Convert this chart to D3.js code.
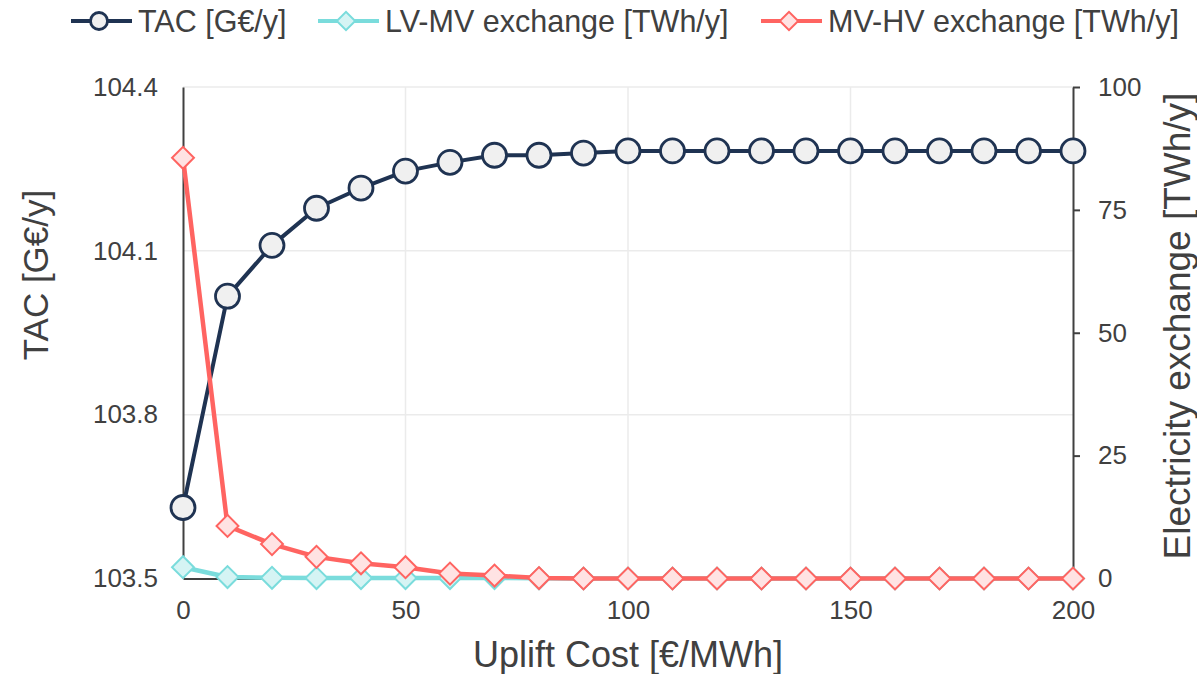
<!DOCTYPE html>
<html>
<head>
<meta charset="utf-8">
<script src="https://cdn.jsdelivr.net/npm/d3@7"></script>
<style>
  body { margin: 0; background: #fff; }
  svg { display: block; font-family: "Liberation Sans", Arial, sans-serif; }
</style>
</head>
<body>
<svg id="chart" width="1197" height="674"></svg>
<script>
// uplift cost steps [€/MWh]
const uplift = [0, 10, 20, 30, 40, 50, 60, 70, 80, 90, 100, 110, 120, 130, 140, 150, 160, 170, 180, 190, 200]
// total annual cost [G€/y]
const tac = [103.63, 104.017, 104.11, 104.178, 104.215, 104.246, 104.262, 104.275, 104.275, 104.279, 104.283,
  104.283, 104.283, 104.283, 104.283, 104.283, 104.283, 104.283, 104.283, 104.283, 104.283]
// exchange [TWh/y]
const lvmv = [2.3, 0.3, 0.15, 0.1, 0.1, 0.1, 0.1, 0.1, 0.05, 0, 0, 0, 0, 0, 0, 0, 0, 0, 0, 0, 0]
const mvhv = [85.6, 10.7, 7.0, 4.4, 3.1, 2.3, 1.0, 0.6, 0.1, 0, 0, 0, 0, 0, 0, 0, 0, 0, 0, 0, 0]

const xTicks = [0, 50, 100, 150, 200]
const yLeftTicks = [103.5, 103.8, 104.1, 104.4]
const yRightTicks = [0, 25, 50, 75, 100]

const TEXT = '#404040'
const AXIS = '#404040'
const GRID = '#ebebeb'

const series = [
  { name: 'TAC [G€/y]', values: tac, side: 'left', line: '#1f3352', fill: '#f0f0f0', stroke: '#1f3352', marker: 'circle' },
  { name: 'LV-MV exchange [TWh/y]', values: lvmv, side: 'right', line: '#7adcdc', fill: '#d5f4f4', stroke: '#7adcdc', marker: 'diamond' },
  { name: 'MV-HV exchange [TWh/y]', values: mvhv, side: 'right', line: '#ff6461', fill: '#ffe3e3', stroke: '#ff6461', marker: 'diamond' }
]
// legend item left edges
const legendX = [71, 318, 761]

const m = { left: 183, right: 1073, top: 87, bottom: 578.5 }
const svg = d3.select('#chart')

const x = d3.scaleLinear().domain([0, 200]).range([m.left, m.right])
const yL = d3.scaleLinear().domain([103.5, 104.4]).range([m.bottom, m.top])
const yR = d3.scaleLinear().domain([0, 100]).range([m.bottom, m.top])

// grid
const grid = svg.append('g')
grid.selectAll('line.gy')
  .data(yLeftTicks.slice(1))
  .join('line')
  .attr('x1', m.left).attr('x2', m.right)
  .attr('y1', d => yL(d)).attr('y2', d => yL(d))
  .attr('stroke', GRID).attr('stroke-width', 1.5)
grid.selectAll('line.gx')
  .data(xTicks.slice(1, -1))
  .join('line')
  .attr('x1', d => x(d)).attr('x2', d => x(d))
  .attr('y1', m.top).attr('y2', m.bottom)
  .attr('stroke', GRID).attr('stroke-width', 1.5)

// axes
const xAxis = svg.append('g')
  .attr('transform', `translate(0,${m.bottom})`)
  .call(d3.axisBottom(x).tickValues(xTicks).tickSize(0).tickPadding(22))
const leftAxis = svg.append('g')
  .attr('transform', `translate(${m.left},0)`)
  .call(d3.axisLeft(yL).tickValues(yLeftTicks).tickSize(0).tickPadding(25).tickFormat(d3.format('.1f')))
const rightAxis = svg.append('g')
  .attr('transform', `translate(${m.right},0)`)
  .call(d3.axisRight(yR).tickValues(yRightTicks).tickSize(7).tickSizeOuter(0).tickPadding(18))

;[xAxis, leftAxis, rightAxis].forEach(g => {
  g.select('.domain').attr('stroke', AXIS).attr('stroke-width', 2)
  g.selectAll('.tick line').attr('stroke', AXIS).attr('stroke-width', 2)
  g.selectAll('.tick text').attr('fill', TEXT).style('font-size', '26px')
  g.attr('font-family', null)
})

// series
const plot = svg.append('g')
series.forEach(s => {
  const y = s.side === 'left' ? yL : yR
  const line = d3.line().x((d, i) => x(uplift[i])).y(d => y(d))
  plot.append('path')
    .datum(s.values)
    .attr('fill', 'none')
    .attr('stroke', s.line)
    .attr('stroke-width', s.marker === 'circle' ? 4 : 4.5)
    .attr('stroke-linejoin', 'round')
    .attr('d', line)
  const sym = s.marker === 'circle'
    ? d3.symbol(d3.symbolCircle, Math.PI * 12 * 12)
    : d3.symbol(d3.symbolSquare, 15.5 * 15.5)
  plot.append('g')
    .selectAll('path')
    .data(s.values)
    .join('path')
    .attr('d', sym)
    .attr('transform', (d, i) => `translate(${x(uplift[i])},${y(d)})` + (s.marker === 'diamond' ? ' rotate(45)' : ''))
    .attr('fill', s.fill)
    .attr('stroke', s.stroke)
    .attr('stroke-width', s.marker === 'circle' ? 2.8 : 2)
})

// axis titles
svg.append('text')
  .attr('x', (m.left + m.right) / 2).attr('y', 667)
  .attr('text-anchor', 'middle')
  .attr('fill', TEXT).style('font-size', '36px')
  .text('Uplift Cost [€/MWh]')
svg.append('text')
  .attr('transform', 'translate(48,275) rotate(-90)')
  .attr('text-anchor', 'middle')
  .attr('fill', TEXT).style('font-size', '35px')
  .text('TAC [G€/y]')
svg.append('text')
  .attr('transform', 'translate(1190,326) rotate(-90)')
  .attr('text-anchor', 'middle')
  .attr('fill', TEXT).style('font-size', '37px')
  .text('Electricity exchange [TWh/y]')

// legend
const legend = svg.append('g')
const ly = 21
series.forEach((s, i) => {
  const lx = legendX[i]
  const g = legend.append('g')
  g.append('line')
    .attr('x1', lx).attr('x2', lx + 61)
    .attr('y1', ly).attr('y2', ly)
    .attr('stroke', s.line).attr('stroke-width', 4)
  const sym = s.marker === 'circle'
    ? d3.symbol(d3.symbolCircle, Math.PI * 8.5 * 8.5)
    : d3.symbol(d3.symbolSquare, 13 * 13)
  g.append('path')
    .attr('d', sym)
    .attr('transform', `translate(${lx + 28},${ly})` + (s.marker === 'diamond' ? ' rotate(45)' : ''))
    .attr('fill', s.fill).attr('stroke', s.stroke).attr('stroke-width', s.marker === 'circle' ? 2.8 : 2)
  g.append('text')
    .attr('x', lx + 67).attr('y', 32)
    .attr('fill', TEXT).style('font-size', '30.5px')
    .text(s.name)
})
</script>
</body>
</html>
